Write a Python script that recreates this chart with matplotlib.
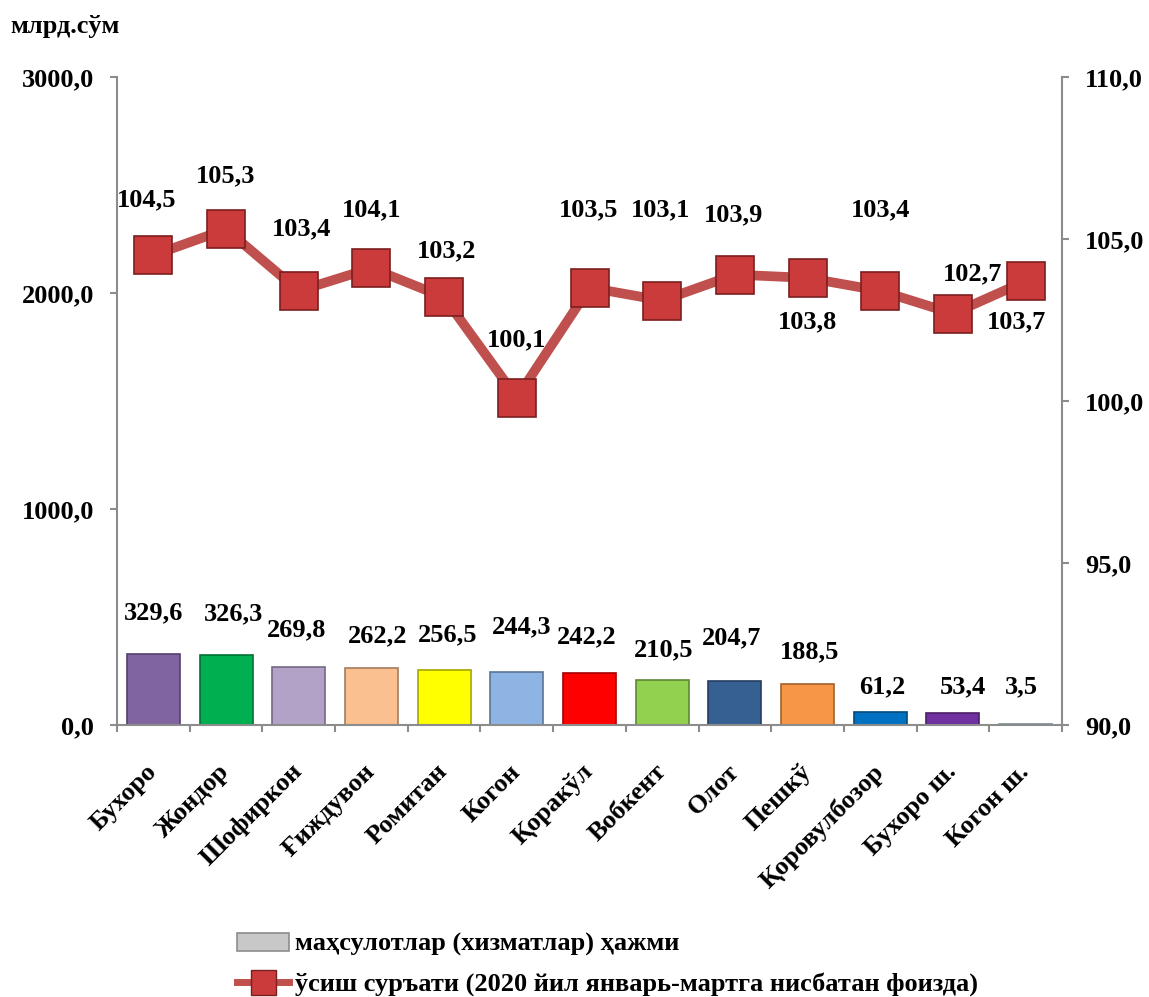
import matplotlib
matplotlib.use("Agg")
import matplotlib.pyplot as plt
from matplotlib.patches import Patch
from matplotlib.lines import Line2D
from matplotlib.ticker import FixedLocator, FuncFormatter
import numpy as np

plt.rcParams['font.family'] = ['Liberation Serif', 'DejaVu Serif']
plt.rcParams['font.weight'] = 'bold'

# Data
districts = ["Бухоро", "Жондор", "Шофиркон", "Ғиждувон", "Ромитан", "Когон", "Қоракўл",
             "Вобкент", "Олот", "Пешкў", "Қоровулбозор", "Бухоро ш.", "Когон ш."]
volume = [329.6, 326.3, 269.8, 262.2, 256.5, 244.3, 242.2, 210.5, 204.7, 188.5, 61.2, 53.4, 3.5]
growth = [104.5, 105.3, 103.4, 104.1, 103.2, 100.1, 103.5, 103.1, 103.9, 103.8, 103.4, 102.7, 103.7]

bar_label = "маҳсулотлар (хизматлар) ҳажми"
line_label = "ўсиш суръати (2020 йил январь-мартга нисбатан фоизда)"

# Styling
bar_colors = ["#8064A2", "#00B050", "#B3A2C7", "#FAC090", "#FFFF00", "#8DB4E2", "#FF0000",
              "#92D050", "#376092", "#F79646", "#0070C0", "#7030A0", "#B7DEE8"]
# label offsets in pixels (dx, dy) - manual placement like the original
bar_lbl_off = [(0, 41), (7, 41), (-2, 37), (6, 33), (4, 35), (5, 45), (-3, 36),
               (1, 30), (-3, 43), (2, 32), (2, 25), (10, 27), (-4, 37)]
line_lbl_off = [(-7, 55), (0, 53), (3, 62), (0, 58), (2, 47), (0, 58), (-1, 78),
                (-2, 91), (-1, 60), (0, -44), (0, 81), (20, 40), (-9, -41)]
FS = 19

def fmt(v):
    return f"{v:.1f}".replace(".", ",")

def darker(c, f=0.65):
    r, g, b = matplotlib.colors.to_rgb(c)
    return (r * f, g * f, b * f)

fig = plt.figure(figsize=(11.49, 9.97), dpi=100)
ax = fig.add_axes([117 / 1149, 1 - 725 / 997, (1062 - 117) / 1149, (725 - 77) / 997])
ax2 = ax.twinx()

x = np.arange(len(districts))
ax.bar(x, volume, width=0.73, color=bar_colors,
       edgecolor=[darker(c) for c in bar_colors], linewidth=1.2, zorder=2)
for xi, v, (dx, dy) in zip(x, volume, bar_lbl_off):
    ax.annotate(fmt(v), (xi, v), xytext=(dx, dy), textcoords="offset pixels",
                ha="center", va="center", fontsize=FS, fontweight="bold")

ax.set_xlim(-0.5, len(districts) - 0.5)
ax.set_ylim(0, 3000)
ax.yaxis.set_major_locator(FixedLocator([0, 1000, 2000, 3000]))
ax.yaxis.set_major_formatter(FuncFormatter(lambda v, p: fmt(v)))

ax2.plot(x, growth, color="#C0504D", linewidth=7, zorder=3, solid_joinstyle="miter",
         marker="s", markersize=27, markerfacecolor="#CC3B3B", markeredgecolor="#7A1F1F",
         markeredgewidth=1.2)
for xi, v, (dx, dy) in zip(x, growth, line_lbl_off):
    ax2.annotate(fmt(v), (xi, v), xytext=(dx, dy), textcoords="offset pixels",
                 ha="center", va="center", fontsize=FS, fontweight="bold")
ax2.set_ylim(90, 110)
ax2.yaxis.set_major_locator(FixedLocator([90, 95, 100, 105, 110]))
ax2.yaxis.set_major_formatter(FuncFormatter(lambda v, p: fmt(v)))

# Axes styling
for a in (ax, ax2):
    for s in a.spines.values():
        s.set_visible(False)
ax.spines["left"].set_visible(True)
ax.spines["bottom"].set_visible(True)
ax2.spines["right"].set_visible(True)
for s in (ax.spines["left"], ax.spines["bottom"], ax2.spines["right"]):
    s.set_color("#8C8C8C")
    s.set_linewidth(1.5)

ax.tick_params(axis="y", length=5, width=1.5, color="#8C8C8C", pad=11.5, labelsize=FS)
ax2.tick_params(axis="y", length=5, width=1.5, color="#8C8C8C", pad=11.5, labelsize=FS)

ax.set_xticks(x)
ax.set_xticks(np.arange(-0.5, len(districts)), minor=True)
ax.set_xticklabels(districts)
ax.tick_params(axis="x", which="major", length=0, pad=31, labelsize=FS)
ax.tick_params(axis="x", which="minor", length=5, width=1.5, color="#8C8C8C")
for lbl in ax.get_xticklabels():
    lbl.set_rotation(45)
    lbl.set_ha("right")
    lbl.set_va("center")
    lbl.set_rotation_mode("anchor")
for lbl in ax.get_yticklabels() + ax2.get_yticklabels():
    lbl.set_fontweight("bold")

fig.text(10 / 1149, 1 - 27 / 997, "млрд.сўм", fontsize=FS, fontweight="bold", va="center")

handles = [Patch(facecolor="#C8C8C8", edgecolor="#8C8C8C", linewidth=1.2),
           Line2D([], [], color="#C0504D", linewidth=5, marker="s", markersize=18,
                  markerfacecolor="#CC3B3B", markeredgecolor="#7A1F1F")]
fig.legend(handles, [bar_label, line_label], loc="upper left",
           bbox_to_anchor=(226 / 1149, 1 - 922 / 997), frameon=False,
           prop={"size": FS, "weight": "bold"}, handlelength=2.0, handletextpad=0.2,
           labelspacing=0.6, borderaxespad=0)

plt.savefig("out.png", dpi=100)
